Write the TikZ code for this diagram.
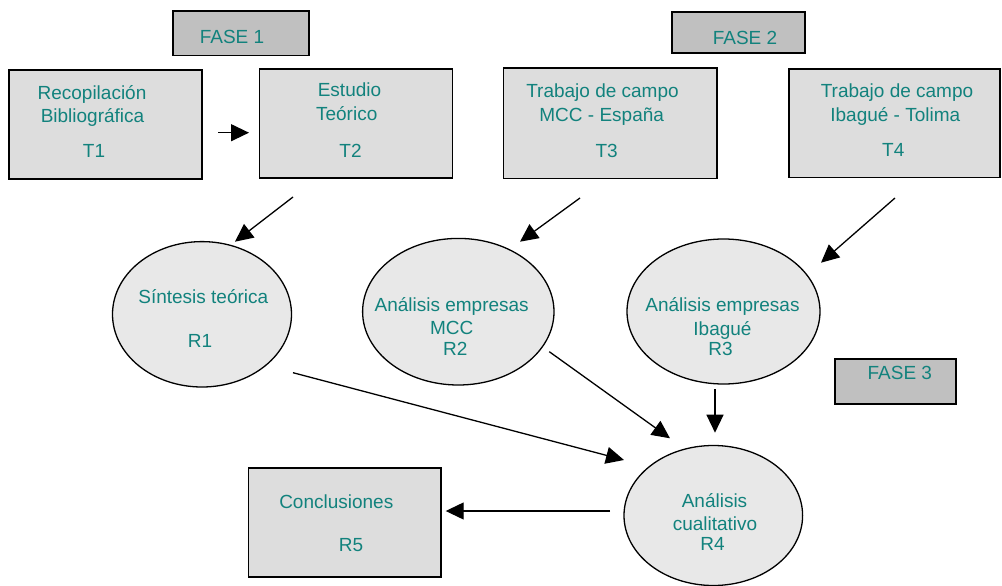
\documentclass[tikz,border=0pt]{standalone}
\usepackage{fontspec}
\setmainfont{Liberation Sans}
\usetikzlibrary{arrows.meta,shapes.geometric}
\definecolor{labelteal}{RGB}{18,130,125}
\definecolor{taskfill}{RGB}{221,221,221}
\definecolor{phasefill}{RGB}{192,192,192}
\definecolor{resultfill}{RGB}{232,232,232}

\begin{document}
\begin{tikzpicture}[x=1pt,y=-1pt,
  taskbox/.style={draw=black, line width=1.6pt, fill=taskfill, inner sep=0pt},
  phasebox/.style={draw=black, line width=1.6pt, fill=phasefill, inner sep=0pt},
  result/.style={ellipse, draw=black, line width=1.3pt, fill=resultfill, inner sep=0pt},
  txt/.style={anchor=base, inner sep=0pt, text=labelteal, font=\fontsize{19}{23}\selectfont},
  flow/.style={draw=black, line width=1.3pt, -{Triangle[length=18pt,width=17pt]}}
]
% page
\fill[white] (0,0) rectangle (1002,586);
\useasboundingbox (0,0) rectangle (1002,586);

% phase labels
\node[phasebox, minimum width=136.3pt, minimum height=44.7pt] (f1) at (240.85,33.35) {};
\node[phasebox, minimum width=133pt, minimum height=41pt] (f2) at (738.5,32.5) {};
\node[phasebox, minimum width=121pt, minimum height=45pt] (f3) at (895.5,381.5) {};
\node[txt] (f1t) at (232,44) {FASE 1};
\node[txt] (f2t) at (745,45) {FASE 2};
\node[txt] (f3t) at (899.8,379) {FASE 3};

% tasks
\node[taskbox, minimum width=193pt, minimum height=109pt] (t1) at (105.5,124.5) {};
\node[taskbox, minimum width=193pt, minimum height=108.7pt] (t2) at (355.8,123.35) {};
\node[taskbox, minimum width=213.4pt, minimum height=110pt] (t3) at (610,123.3) {};
\node[taskbox, minimum width=211pt, minimum height=108pt] (t4) at (894.5,123.3) {};

\node[txt] (t1a) at (92,99.5) {Recopilación};
\node[txt] (t1b) at (92.5,122) {Bibliográfica};
\node[txt] (t1c) at (94,157) {T1};

\node[txt] (t2a) at (349.5,96) {Estudio};
\node[txt] (t2b) at (346.7,120.7) {Teórico};
\node[txt] (t2c) at (350.5,157.3) {T2};

\node[txt] (t3a) at (602.5,97.3) {Trabajo de campo};
\node[txt] (t3b) at (601.7,121.7) {MCC - España};
\node[txt] (t3c) at (606.7,157.7) {T3};

\node[txt] (t4a) at (897,97.3) {Trabajo de campo};
\node[txt] (t4b) at (895.3,121.7) {Ibagué - Tolima};
\node[txt] (t4c) at (893.3,156.7) {T4};

% results
\node[result, minimum width=179pt, minimum height=145.4pt] (r1) at (202,314.3) {};
\node[result, minimum width=191.4pt, minimum height=146.6pt] (r2) at (458.3,311.7) {};
\node[result, minimum width=193pt, minimum height=145pt] (r3) at (723.5,311.5) {};
\node[result, minimum width=178.6pt, minimum height=140pt] (r4) at (713.3,515.5) {};
\node[taskbox, minimum width=192.7pt, minimum height=109pt] (r5) at (344.65,522.2) {};

\node[txt] (r1a) at (203.3,303) {Síntesis teórica};
\node[txt] (r1b) at (200,347) {R1};

\node[txt] (r2a) at (451.7,311.7) {Análisis empresas};
\node[txt] (r2b) at (451.7,334) {MCC};
\node[txt] (r2c) at (455.3,355) {R2};

\node[txt] (r3a) at (722.5,311.7) {Análisis empresas};
\node[txt] (r3b) at (722.5,335) {Ibagué};
\node[txt] (r3c) at (720.5,355.7) {R3};

\node[txt] (r4a) at (714.5,507.7) {Análisis};
\node[txt] (r4b) at (715,530.7) {cualitativo};
\node[txt] (r4c) at (712.5,550) {R4};

\node[txt] (r5a) at (336.3,508.3) {Conclusiones};
\node[txt] (r5b) at (351,551) {R5};

% connector end points
\coordinate (c12s) at (218.3,132.7);
\coordinate (c12e) at (249,132.7);
\coordinate (c2s) at (293,197);
\coordinate (c2e) at (235,241.7);
\coordinate (c3s) at (580,198);
\coordinate (c3e) at (520,241.7);
\coordinate (c4s) at (895,198);
\coordinate (c4e) at (821,262.7);
\coordinate (q1s) at (293,372.7);
\coordinate (q1e) at (624,460);
\coordinate (q2s) at (549.3,351.7);
\coordinate (q2e) at (670,438.3);
\coordinate (q3s) at (715,389);
\coordinate (q3e) at (715,432.7);
\coordinate (q4s) at (610,511);
\coordinate (q4e) at (445.7,511);

% flow
\draw[flow] (c12s) -- (c12e);
\draw[flow] (c2s) -- (c2e);
\draw[flow] (c3s) -- (c3e);
\draw[flow] (c4s) -- (c4e);
\draw[flow] (q1s) -- (q1e);
\draw[flow] (q2s) -- (q2e);
\draw[flow] (q3s) -- (q3e);
\draw[flow] (q4s) -- (q4e);
\end{tikzpicture}
\end{document}
